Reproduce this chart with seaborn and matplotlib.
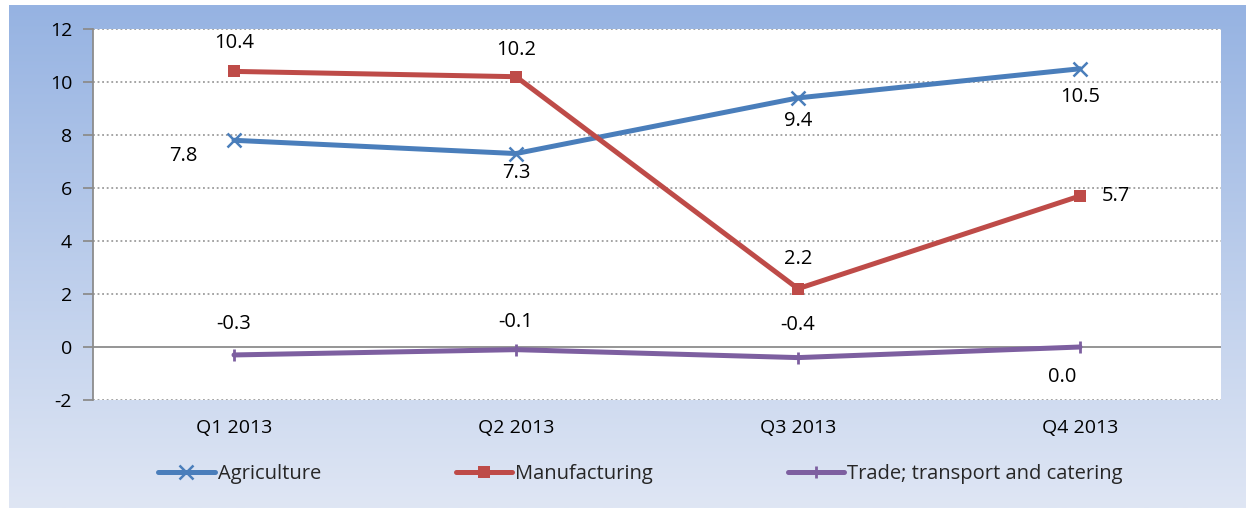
import numpy as np
import pandas as pd
import matplotlib
matplotlib.use("Agg")
import matplotlib.pyplot as plt
import seaborn as sns

quarters = ["Q1 2013", "Q2 2013", "Q3 2013", "Q4 2013"]
agriculture = [7.8, 7.3, 9.4, 10.5]
manufacturing = [10.4, 10.2, 2.2, 5.7]
trade = [-0.3, -0.1, -0.4, 0.0]
series_names = ["Agriculture", "Manufacturing", "Trade; transport and catering"]

colors = ["#4A7EBB", "#BE4B48", "#7D5FA0"]
markers = ["x", "s", "|"]
# label offsets in pixels (dx, dy) relative to point, screen coords (y up)
offsets = [
    [(-51, -16), (0, -19), (0, -23), (0, -28)],
    [(0, 28), (0, 27), (0, 30), (36, 0)],
    [(0, 31), (0, 28), (0, 33), (-18, -30)],
]

sns.set_theme(style="white")
plt.rcParams["font.family"] = ["Open Sans", "DejaVu Sans"]
plt.rcParams["axes.unicode_minus"] = False

W, H = 1246, 508
fig = plt.figure(figsize=(W / 100, H / 100), dpi=100)
fig.patch.set_facecolor("white")

# gradient background
bg = fig.add_axes([9 / W, 0, 1 - 9 / W, 1 - 5 / H], zorder=-5)
top = np.array([0x96, 0xB3, 0xE2]) / 255
bot = np.array([0xDF, 0xE6, 0xF4]) / 255
t = np.linspace(0, 1, 256)[:, None]
grad = (top[None, :] * (1 - t) + bot[None, :] * t)[:, None, :]
bg.imshow(grad, aspect="auto", extent=[0, 1, 0, 1])
bg.set_axis_off()

ax = fig.add_axes([93 / W, (H - 400) / H, (1221 - 93) / W, (400 - 29) / H], zorder=1)
ax.set_facecolor("white")

values = [agriculture, manufacturing, trade]
df = pd.DataFrame({
    "quarter": quarters * 3,
    "x": list(range(len(quarters))) * 3,
    "value": agriculture + manufacturing + trade,
    "series": sum([[s] * len(quarters) for s in series_names], []),
})

msizes = [10, 9, 9]
mews = [1.8, 0, 2.0]
for i, name in enumerate(series_names):
    sub = df[df["series"] == name]
    sns.lineplot(data=sub, x="x", y="value", ax=ax, color=colors[i], lw=3.6,
                 marker=markers[i], markersize=msizes[i], markeredgewidth=mews[i],
                 markeredgecolor=colors[i], label=name, legend=False, zorder=3)

for i, vals in enumerate(values):
    for j, v in enumerate(vals):
        dx, dy = offsets[i][j]
        ax.annotate(f"{v:.1f}", (j, v), xytext=(dx * 0.72, dy * 0.72),
                    textcoords="offset points", ha="center", va="center",
                    fontsize=14.5, color="black", zorder=4)

ax.set_xlim(-0.5, 3.5)
ax.set_ylim(-2, 12)
ax.set_yticks(range(-2, 13, 2))
ax.set_xticks(range(len(quarters)))
ax.set_xticklabels(quarters)
ax.set_xlabel("")
ax.set_ylabel("")
for y in range(-2, 13, 2):
    if y == 0:
        ax.axhline(0, color="#8C8C8C", lw=1.3, zorder=1)
    else:
        ax.axhline(y, color="#8C8C8C", lw=1.1, ls=(0, (1.2, 1.8)), zorder=1)

for s in ["top", "right", "bottom"]:
    ax.spines[s].set_visible(False)
ax.spines["left"].set_color("#8C8C8C")
ax.spines["left"].set_linewidth(1.3)
ax.tick_params(axis="y", which="both", left=True, length=7, width=1.3, color="#8C8C8C",
               labelsize=14, pad=8, labelcolor="black")
ax.tick_params(axis="x", bottom=False, labelsize=14, pad=8, labelcolor="black")

handles, labels = ax.get_legend_handles_labels()
leg = fig.legend(handles, labels, loc="center", bbox_to_anchor=(0.514, (H - 474) / H),
                 ncol=3, frameon=False, fontsize=14.5, handlelength=2.8,
                 handletextpad=0.15, columnspacing=6.7)

fig.savefig("out.png", dpi=100)
